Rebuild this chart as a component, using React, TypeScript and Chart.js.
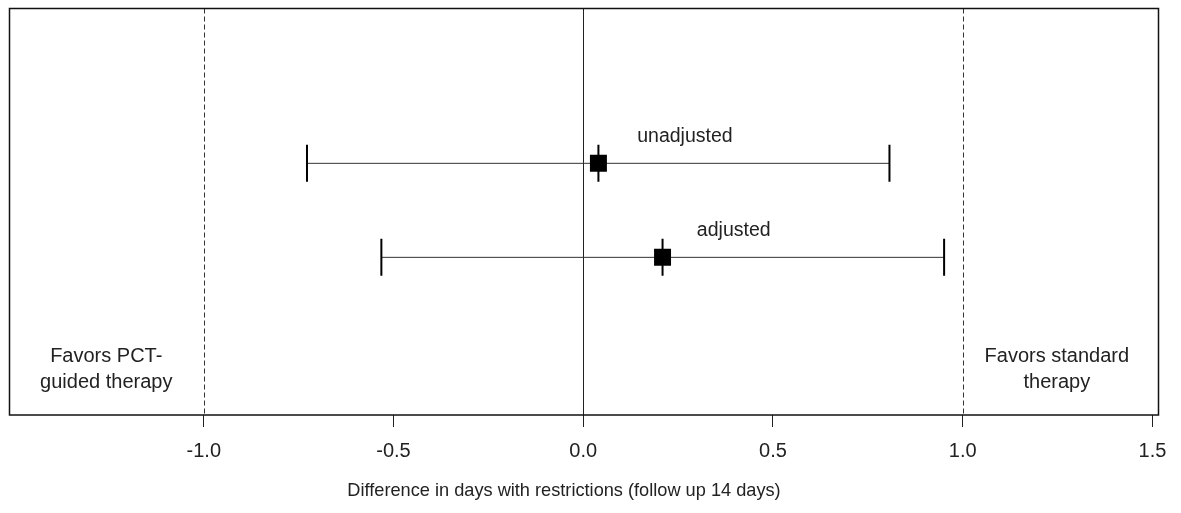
import React, { useEffect, useRef } from "react";
import { Chart, registerables } from "chart.js";

Chart.register(...registerables);

// ---- data ----
const categories = ["unadjusted", "adjusted"];
const rowY = [2, 1];
const estimates = [0.04, 0.209];
const lowerCI = [-0.728, -0.532];
const upperCI = [0.807, 0.951];
const tickValues = [-1.0, -0.5, 0.0, 0.5, 1.0, 1.5];
const refLinesDashed = [-1.0, 1.0];
const refLineSolid = [0.0];
const xTitle = "Difference in days with restrictions (follow up 14 days)";
const favorsLeft = ["Favors PCT-", "guided therapy"];
const favorsRight = ["Favors standard", "therapy"];

// label anchor positions (data coordinates)
const seriesLabelX = [0.268, 0.3966];
const seriesLabelY = [2.23, 1.23];
const favorsX = [-1.257, 1.248];
const favorsY = -0.117;

const FONT = "'Liberation Sans', Arial, Helvetica, sans-serif";

const overlayPlugin = {
  id: "overlay",
  beforeDatasetsDraw(chart: any) {
    const { ctx, chartArea, scales } = chart;
    const x = scales.x;
    const top = chartArea.top;
    const bottom = chartArea.bottom;
    ctx.save();
    ctx.strokeStyle = "#333";
    ctx.lineWidth = 1;
    ctx.setLineDash([5, 3]);
    refLinesDashed.forEach((v) => {
      const px = Math.round(x.getPixelForValue(v)) + 0.5;
      ctx.beginPath();
      ctx.moveTo(px, top);
      ctx.lineTo(px, bottom);
      ctx.stroke();
    });
    ctx.setLineDash([]);
    ctx.strokeStyle = "#222";
    refLineSolid.forEach((v) => {
      const px = Math.round(x.getPixelForValue(v)) + 0.5;
      ctx.beginPath();
      ctx.moveTo(px, top);
      ctx.lineTo(px, bottom);
      ctx.stroke();
    });
    ctx.restore();
  },
  afterDraw(chart: any) {
    const { ctx, chartArea, scales } = chart;
    const x = scales.x;
    const y = scales.y;
    ctx.save();
    // box
    ctx.strokeStyle = "#111";
    ctx.lineWidth = 1.5;
    ctx.strokeRect(
      chartArea.left,
      chartArea.top,
      chartArea.right - chartArea.left,
      chartArea.bottom - chartArea.top
    );
    // series labels
    ctx.fillStyle = "#222";
    ctx.textAlign = "center";
    ctx.textBaseline = "alphabetic";
    ctx.font = `19.5px ${FONT}`;
    categories.forEach((c, i) => {
      ctx.fillText(c, x.getPixelForValue(seriesLabelX[i]), y.getPixelForValue(seriesLabelY[i]));
    });
    // favors labels
    ctx.font = `20px ${FONT}`;
    [favorsLeft, favorsRight].forEach((lines, i) => {
      const px = x.getPixelForValue(favorsX[i]);
      const py = y.getPixelForValue(favorsY);
      lines.forEach((l, j) => ctx.fillText(l, px, py + j * 26));
    });
    // axis title
    ctx.font = `18.2px ${FONT}`;
    ctx.fillText(xTitle, 564, 495.5);
    ctx.restore();
  },
};

export default function App() {
  const ref = useRef<HTMLCanvasElement | null>(null);
  useEffect(() => {
    document.body.style.margin = "0";
    if (!ref.current) return;
    const ciLines = categories.map((c, i) => ({
      label: c + " CI",
      type: "line" as const,
      data: [
        { x: lowerCI[i], y: rowY[i] },
        { x: upperCI[i], y: rowY[i] },
      ],
      borderColor: "#333",
      borderWidth: 1,
      pointRadius: 0,
      showLine: true,
    }));
    const caps = {
      label: "caps",
      type: "scatter" as const,
      data: categories.flatMap((c, i) => [
        { x: lowerCI[i], y: rowY[i] },
        { x: estimates[i], y: rowY[i] },
        { x: upperCI[i], y: rowY[i] },
      ]),
      pointStyle: "line",
      rotation: 90,
      radius: 18.5,
      borderColor: "#000",
      borderWidth: 2,
      backgroundColor: "#000",
    };
    const squares = {
      label: "estimate",
      type: "scatter" as const,
      data: categories.map((c, i) => ({ x: estimates[i], y: rowY[i] })),
      pointStyle: "rect",
      radius: 12,
      borderWidth: 0,
      backgroundColor: "#000",
      borderColor: "#000",
    };
    const chart = new Chart(ref.current, {
      type: "scatter",
      data: { datasets: [squares, caps, ...ciLines] as any },
      options: {
        animation: false,
        responsive: false,
        maintainAspectRatio: false,
        layout: { autoPadding: false, padding: { left: 9.5, right: 22.5, top: 8.5, bottom: 0 } },
        plugins: { legend: { display: false }, tooltip: { enabled: false } },
        scales: {
          x: {
            type: "linear",
            min: -1.512,
            max: 1.516,
            afterBuildTicks: (axis: any) => {
              axis.ticks = tickValues.map((v) => ({ value: v }));
            },
            afterFit: (scale: any) => {
              scale.height = 98;
            },
            border: { display: false },
            grid: {
              drawOnChartArea: false,
              drawTicks: true,
              tickLength: 12,
              color: "#222",
              lineWidth: 1,
            },
            ticks: {
              autoSkip: false,
              maxRotation: 0,
              padding: 12,
              color: "#222",
              font: { family: FONT, size: 20 },
              callback: (v: any) => Number(v).toFixed(1),
            },
          },
          y: {
            type: "linear",
            display: false,
            min: -0.677,
            max: 3.647,
          },
        },
      },
      plugins: [overlayPlugin],
    });
    return () => chart.destroy();
  }, []);
  return (
    <div style={{ position: "absolute", left: 0, top: 0, width: 1181, height: 513, background: "#fff" }}>
      <canvas ref={ref} width={1181} height={513} style={{ width: 1181, height: 513 }} />
    </div>
  );
}
